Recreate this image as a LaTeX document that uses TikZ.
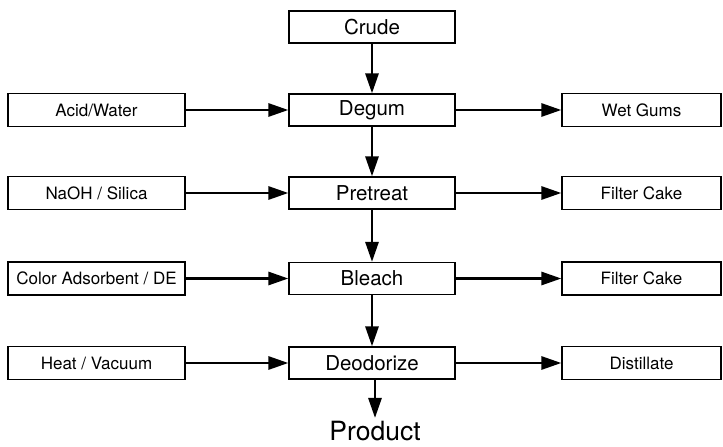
\documentclass[tikz,border=0pt]{standalone}
\usepackage{fontspec}
\setmainfont{TeX Gyre Heros}
\usetikzlibrary{arrows.meta}
\tikzstyle{mainbox}=[rectangle, draw, line width=1.2pt, minimum width=166pt, minimum height=32pt, inner sep=0pt, font=\fontsize{20.5}{24}\selectfont]
\tikzstyle{inbox}=[rectangle, draw, line width=1.2pt, minimum width=177pt, minimum height=33pt, inner sep=0pt, font=\fontsize{17}{20}\selectfont]
\tikzstyle{outbox}=[rectangle, draw, line width=1.2pt, minimum width=159pt, minimum height=33pt, inner sep=0pt, font=\fontsize{17}{20}\selectfont]
\tikzstyle{flow}=[line width=2.8pt, -{Triangle[length=20pt,width=13pt]}]

\begin{document}
\begin{tikzpicture}[x=1pt, y=-1pt]
\useasboundingbox (0,0) rectangle (723,447);

\node[mainbox] (crude) at (372,27) {Crude};
\node[mainbox] (degum) at (372,110) {Degum};
\node[mainbox] (pretreat) at (372,193) {Pretreat};
\node[mainbox] (bleach) at (372,278.5) {Bleach};
\node[mainbox] (deodor) at (372,363) {Deodorize};
\node[anchor=base, inner sep=0pt, font=\fontsize{26.5}{30}\selectfont] (product) at (375,440.5) {Product};

\node[inbox] (acid) at (96.5,110) {Acid/Water};
\node[inbox] (naoh) at (96.5,193) {NaOH / Silica};
\node[inbox] (color) at (96.5,278.5) {Color Adsorbent / DE};
\node[inbox] (heat) at (96.5,363) {Heat / Vacuum};

\node[outbox] (gums) at (641.5,110) {Wet Gums};
\node[outbox] (cakeA) at (641.5,193) {Filter Cake};
\node[outbox] (cakeB) at (641.5,278.5) {Filter Cake};
\node[outbox] (distil) at (641.5,363) {Distillate};

\draw[flow] (crude) -- (degum);
\draw[flow] (degum) -- (pretreat);
\draw[flow] (pretreat) -- (bleach);
\draw[flow] (bleach) -- (deodor);
\draw[flow, shorten >=3pt] (deodor.south -| product) -- (product);

\draw[flow] (acid) -- (degum);
\draw[flow] (naoh) -- (pretreat);
\draw[flow] (color) -- (bleach);
\draw[flow] (heat) -- (deodor);

\draw[flow] (degum) -- (gums);
\draw[flow] (pretreat) -- (cakeA);
\draw[flow] (bleach) -- (cakeB);
\draw[flow] (deodor) -- (distil);

\end{tikzpicture}
\end{document}
